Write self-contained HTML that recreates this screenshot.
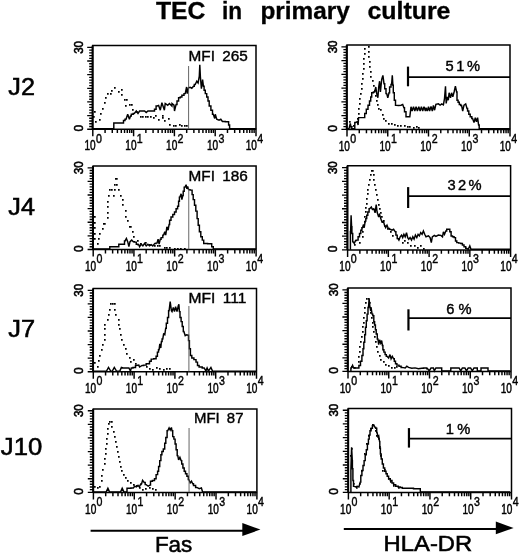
<!DOCTYPE html>
<html lang="en"><head><meta charset="utf-8"><title>TEC in primary culture</title>
<style>html,body{margin:0;padding:0;background:#fff}svg{display:block;will-change:transform}</style></head>
<body>
<svg width="520" height="554" viewBox="0 0 520 554" font-family='"Liberation Sans", Arial, Helvetica, sans-serif' fill="#000">
<rect width="520" height="554" fill="#fff"/>
<text x="155.9" y="18.8" font-size="23.6" text-anchor="start" font-weight="bold" textLength="49.6" lengthAdjust="spacingAndGlyphs" stroke="#000" stroke-width="0.3">TEC</text>
<text x="221.9" y="18.8" font-size="23.6" text-anchor="start" font-weight="bold" textLength="20.1" lengthAdjust="spacingAndGlyphs" stroke="#000" stroke-width="0.3">in</text>
<text x="260.4" y="18.8" font-size="23.6" text-anchor="start" font-weight="bold" textLength="89.35" lengthAdjust="spacingAndGlyphs" stroke="#000" stroke-width="0.3">primary</text>
<text x="367.4" y="18.8" font-size="23.6" text-anchor="start" font-weight="bold" textLength="83.1" lengthAdjust="spacingAndGlyphs" stroke="#000" stroke-width="0.3">culture</text>
<text x="8.3" y="95.0" font-size="23" text-anchor="start" font-weight="normal" textLength="26.6" lengthAdjust="spacingAndGlyphs" stroke="#000" stroke-width="0.55">J2</text>
<text x="8.3" y="215.2" font-size="23" text-anchor="start" font-weight="normal" textLength="26.6" lengthAdjust="spacingAndGlyphs" stroke="#000" stroke-width="0.55">J4</text>
<text x="8.3" y="337.4" font-size="23" text-anchor="start" font-weight="normal" textLength="26.8" lengthAdjust="spacingAndGlyphs" stroke="#000" stroke-width="0.55">J7</text>
<text x="0.8" y="454.7" font-size="23" text-anchor="start" font-weight="normal" textLength="41.4" lengthAdjust="spacingAndGlyphs" stroke="#000" stroke-width="0.55">J10</text>
<path d="M94 111h1.7v1.7h-1.7zM93 116h1.7v1.7h-1.7zM95 121h1.7v1.7h-1.7zM99 119h1.7v1.7h-1.7zM100 113h1.7v1.7h-1.7zM102 108h1.7v1.7h-1.7zM104 102h1.7v1.7h-1.7zM105 97h1.7v1.7h-1.7zM107 93h1.7v1.7h-1.7zM110 93h1.7v1.7h-1.7zM111 90h1.7v1.7h-1.7zM114 87h1.7v1.7h-1.7zM118 91h1.7v1.7h-1.7zM121 89h1.7v1.7h-1.7zM121 94h1.7v1.7h-1.7zM124 99h1.7v1.7h-1.7zM126 99h1.7v1.7h-1.7zM125 105h1.7v1.7h-1.7zM129 104h1.7v1.7h-1.7zM131 104h1.7v1.7h-1.7zM132 109h1.7v1.7h-1.7zM136 111h1.7v1.7h-1.7zM140 116h1.7v1.7h-1.7zM142 116h1.7v1.7h-1.7zM145 116h1.7v1.7h-1.7zM147 116h1.7v1.7h-1.7zM150 116h1.7v1.7h-1.7zM153 117h1.7v1.7h-1.7zM155 115h1.7v1.7h-1.7zM158 119h1.7v1.7h-1.7zM162 117h1.7v1.7h-1.7zM162 115h1.7v1.7h-1.7zM164 120h1.7v1.7h-1.7zM168 118h1.7v1.7h-1.7zM169 124h1.7v1.7h-1.7zM173 125h1.7v1.7h-1.7zM173 125h1.7v1.7h-1.7zM175 125h1.7v1.7h-1.7zM179 124h1.7v1.7h-1.7zM181 125h1.7v1.7h-1.7zM184 125h1.7v1.7h-1.7zM186 125h1.7v1.7h-1.7z" fill="#000" stroke="none"/>
<path d="M93.0 128.7H113.2H113.8V123.0H114.5H123.1H123.5V120.4H123.9H125.0V119.2H126.0L127.7 114.3L129.4 119.2L130.5 115.9H131.3V114.3H132.2H133.2V113.5H134.3L136.3 111.0L138.0 113.5L139.6 111.0H144.6L146.2 112.6L147.9 111.0H153.7H154.5V109.3H155.3H156.1V106.0H157.0L158.6 105.5L160.3 110.2L161.9 102.7L164.4 110.2L165.2 103.5L167.7 105.2L169.4 103.5L171.9 106.0L172.0 103.5L174.0 105.2L174.5 111.0L176.1 104.4H177.0V101.0H177.8H178.6V97.8H179.4H180.3V96.9H181.1H181.9V95.3H182.8H184.0V93.6H185.2L186.6 87.0L187.2 93.6L188.5 87.8L190.2 87.3L191.8 88.3L193.5 86.2H194.3V84.5H195.2L196.8 81.2L198.1 82.9L199.3 76.2L199.8 64.7L200.4 77.1L201.4 88.7L202.6 79.5L203.4 86.2H204.1V90.3H204.7H205.3V93.6H205.9H206.7V96.9H207.6H208.0V101.0H208.4H209.2V106.0H210.0H210.9V110.2H211.7H212.5V114.3H213.3L214.7 118.4L215.3 114.3L216.7 119.2L219.1 120.1L220.8 119.2L222.4 121.4H225.3V121.7H228.2H228.6V125.0H229.1H229.6V128.7H230.2H255.8" fill="none" stroke="#000" stroke-width="1.45" stroke-linejoin="miter" stroke-miterlimit="3"/>
<path d="M92.8 129.2V45.6H256.0V129.2" fill="none" stroke="#000" stroke-width="1.5"/>
<path d="M92.39999999999999 129.2H256.4" fill="none" stroke="#000" stroke-width="1.5"/>
<path d="M92.5 129.2V45.6" fill="none" stroke="#000" stroke-width="1.9"/>
<path d="M92.8 129.20h-5.6M92.8 126.47h-3.6M92.8 123.75h-3.6M92.8 121.02h-3.6M92.8 118.29h-3.6M92.8 115.57h-5.6M92.8 112.84h-3.6M92.8 110.11h-3.6M92.8 107.39h-3.6M92.8 104.66h-3.6M92.8 101.93h-5.6M92.8 99.21h-3.6M92.8 96.48h-3.6M92.8 93.75h-3.6M92.8 91.03h-3.6M92.8 88.30h-5.6M92.8 85.57h-3.6M92.8 82.85h-3.6M92.8 80.12h-3.6M92.8 77.39h-3.6M92.8 74.67h-5.6M92.8 71.94h-3.6M92.8 69.21h-3.6M92.8 66.49h-3.6M92.8 63.76h-3.6M92.8 61.03h-5.6M92.8 58.31h-3.6M92.8 55.58h-3.6M92.8 52.85h-3.6M92.8 50.13h-3.6M92.8 47.40h-5.6" stroke="#000" stroke-width="1.35" fill="none"/>
<path d="M92.80 129.2v7.0M105.08 129.2v3.9M112.27 129.2v3.9M117.36 129.2v3.9M121.32 129.2v3.9M124.55 129.2v3.9M127.28 129.2v3.9M129.65 129.2v3.9M131.73 129.2v3.9M133.60 129.2v7.0M145.88 129.2v3.9M153.07 129.2v3.9M158.16 129.2v3.9M162.12 129.2v3.9M165.35 129.2v3.9M168.08 129.2v3.9M170.45 129.2v3.9M172.53 129.2v3.9M174.40 129.2v7.0M186.68 129.2v3.9M193.87 129.2v3.9M198.96 129.2v3.9M202.92 129.2v3.9M206.15 129.2v3.9M208.88 129.2v3.9M211.25 129.2v3.9M213.33 129.2v3.9M215.20 129.2v7.0M227.48 129.2v3.9M234.67 129.2v3.9M239.76 129.2v3.9M243.72 129.2v3.9M246.95 129.2v3.9M249.68 129.2v3.9M252.05 129.2v3.9M254.13 129.2v3.9M256.00 129.2v7.0" stroke="#000" stroke-width="1.45" fill="none"/>
<text x="84.5" y="150.39999999999998" font-size="13.9" text-anchor="start" font-weight="normal" textLength="11.2" lengthAdjust="spacingAndGlyphs" stroke="#000" stroke-width="0.5">10</text>
<text x="96.0" y="142.59999999999997" font-size="13.4" text-anchor="start" font-weight="normal" textLength="5.9" lengthAdjust="spacingAndGlyphs" stroke="#000" stroke-width="0.45">0</text>
<text x="125.3" y="150.39999999999998" font-size="13.9" text-anchor="start" font-weight="normal" textLength="11.2" lengthAdjust="spacingAndGlyphs" stroke="#000" stroke-width="0.5">10</text>
<text x="136.8" y="142.59999999999997" font-size="13.4" text-anchor="start" font-weight="normal" textLength="5.9" lengthAdjust="spacingAndGlyphs" stroke="#000" stroke-width="0.45">1</text>
<text x="166.1" y="150.39999999999998" font-size="13.9" text-anchor="start" font-weight="normal" textLength="11.2" lengthAdjust="spacingAndGlyphs" stroke="#000" stroke-width="0.5">10</text>
<text x="177.6" y="142.59999999999997" font-size="13.4" text-anchor="start" font-weight="normal" textLength="5.9" lengthAdjust="spacingAndGlyphs" stroke="#000" stroke-width="0.45">2</text>
<text x="206.9" y="150.39999999999998" font-size="13.9" text-anchor="start" font-weight="normal" textLength="11.2" lengthAdjust="spacingAndGlyphs" stroke="#000" stroke-width="0.5">10</text>
<text x="218.4" y="142.59999999999997" font-size="13.4" text-anchor="start" font-weight="normal" textLength="5.9" lengthAdjust="spacingAndGlyphs" stroke="#000" stroke-width="0.45">3</text>
<text x="245.7" y="150.39999999999998" font-size="13.9" text-anchor="start" font-weight="normal" textLength="11.2" lengthAdjust="spacingAndGlyphs" stroke="#000" stroke-width="0.5">10</text>
<text x="257.2" y="142.59999999999997" font-size="13.4" text-anchor="start" font-weight="normal" textLength="5.9" lengthAdjust="spacingAndGlyphs" stroke="#000" stroke-width="0.45">4</text>
<text transform="translate(82.60 47.40) rotate(-90)" font-size="12" text-anchor="middle" textLength="12.8" lengthAdjust="spacingAndGlyphs" stroke="#000" stroke-width="0.6">30</text>
<text transform="translate(82.60 128.30) rotate(-90)" font-size="12" text-anchor="middle" textLength="6.6" lengthAdjust="spacingAndGlyphs" stroke="#000" stroke-width="0.6">0</text>
<path d="M349 121h1.7v1.7h-1.7zM351 126h1.7v1.7h-1.7zM353 125h1.7v1.7h-1.7zM357 118h1.7v1.7h-1.7zM358 113h1.7v1.7h-1.7zM358 108h1.7v1.7h-1.7zM359 103h1.7v1.7h-1.7zM359 98h1.7v1.7h-1.7zM360 93h1.7v1.7h-1.7zM361 88h1.7v1.7h-1.7zM361 83h1.7v1.7h-1.7zM362 78h1.7v1.7h-1.7zM362 73h1.7v1.7h-1.7zM363 68h1.7v1.7h-1.7zM363 63h1.7v1.7h-1.7zM363 58h1.7v1.7h-1.7zM364 53h1.7v1.7h-1.7zM364 48h1.7v1.7h-1.7zM368 46h1.7v1.7h-1.7zM368 51h1.7v1.7h-1.7zM368 56h1.7v1.7h-1.7zM369 61h1.7v1.7h-1.7zM369 66h1.7v1.7h-1.7zM370 71h1.7v1.7h-1.7zM370 76h1.7v1.7h-1.7zM372 80h1.7v1.7h-1.7zM373 85h1.7v1.7h-1.7zM374 90h1.7v1.7h-1.7zM375 95h1.7v1.7h-1.7zM376 100h1.7v1.7h-1.7zM377 104h1.7v1.7h-1.7zM378 108h1.7v1.7h-1.7zM380 109h1.7v1.7h-1.7zM382 114h1.7v1.7h-1.7zM383 118h1.7v1.7h-1.7zM385 120h1.7v1.7h-1.7zM388 123h1.7v1.7h-1.7zM391 123h1.7v1.7h-1.7zM394 124h1.7v1.7h-1.7zM397 125h1.7v1.7h-1.7zM400 125h1.7v1.7h-1.7zM404 125h1.7v1.7h-1.7zM407 126h1.7v1.7h-1.7zM409 126h1.7v1.7h-1.7zM413 127h1.7v1.7h-1.7zM416 126h1.7v1.7h-1.7zM418 127h1.7v1.7h-1.7z" fill="#000" stroke="none"/>
<path d="M347.2 128.8H349.0L350.3 123.4L351.4 128.8H353.9H354.8V122.5H355.6L357.2 121.7L358.1 125.0L358.6 117.6H363.8H364.7V113.5H365.5H366.3V109.3H367.1H368.0V105.2H368.8H369.5V101.0H370.1H370.7V96.9H371.3H371.7V92.8H372.1H373.4V92.0H374.6L375.8 87.0L376.7 93.6L377.9 97.8L378.7 87.0L379.6 81.2L380.4 92.0L381.7 79.5L382.9 75.4L384.0 83.7H384.7V88.7H385.3H386.0V93.6H386.7L387.8 97.8L389.0 92.8H389.6V87.0H390.3H391.0V84.5H391.6L392.3 75.4L392.9 85.3H393.3V92.8H393.6H394.3V100.2H394.9H395.5V105.2H396.1L398.6 105.5L401.1 105.2L402.7 104.4L403.9 107.7H404.5V111.8H405.2H406.0V116.8H406.8H409.8L411.0 106.8L412.1 111.0L413.5 106.8L414.8 111.0L416.1 106.8L417.4 111.0L418.8 106.8L420.1 111.0L421.4 106.8L422.7 111.0L424.0 106.8L425.4 111.0L426.0 107.7L427.3 111.0L428.5 106.8L429.6 111.0L431.0 106.5L432.3 111.0L433.4 105.5L434.6 110.2L435.9 104.4L438.4 103.9L440.1 105.2L441.7 103.9L443.4 104.9L444.5 98.6L445.5 86.2L446.2 103.5L447.2 96.9L448.3 100.2L449.1 92.8L450.5 97.8L451.6 92.8L452.8 96.9L454.1 92.0L455.4 86.2L456.6 92.0H457.0V100.2H457.4H458.1V102.2H458.7H459.3V104.4H459.9H460.7V105.5H461.6L462.7 111.0L464.0 105.2L465.7 103.9L467.0 108.5H467.6V111.0H468.2H468.8V114.3H469.3H470.2V116.8H471.0H471.8V118.4H472.6L474.0 122.5L475.3 117.6L476.4 121.7L477.6 117.6L478.6 125.0H479.2V128.8H479.8H509.8" fill="none" stroke="#000" stroke-width="1.45" stroke-linejoin="miter" stroke-miterlimit="3"/>
<path d="M347.0 129.4V45.1H510.0V129.4" fill="none" stroke="#000" stroke-width="1.5"/>
<path d="M346.6 129.4H510.4" fill="none" stroke="#000" stroke-width="1.5"/>
<path d="M346.7 129.4V45.1" fill="none" stroke="#000" stroke-width="1.9"/>
<path d="M347.0 129.40h-5.6M347.0 126.65h-3.6M347.0 123.90h-3.6M347.0 121.15h-3.6M347.0 118.40h-3.6M347.0 115.65h-5.6M347.0 112.90h-3.6M347.0 110.15h-3.6M347.0 107.40h-3.6M347.0 104.65h-3.6M347.0 101.90h-5.6M347.0 99.15h-3.6M347.0 96.40h-3.6M347.0 93.65h-3.6M347.0 90.90h-3.6M347.0 88.15h-5.6M347.0 85.40h-3.6M347.0 82.65h-3.6M347.0 79.90h-3.6M347.0 77.15h-3.6M347.0 74.40h-5.6M347.0 71.65h-3.6M347.0 68.90h-3.6M347.0 66.15h-3.6M347.0 63.40h-3.6M347.0 60.65h-5.6M347.0 57.90h-3.6M347.0 55.15h-3.6M347.0 52.40h-3.6M347.0 49.65h-3.6M347.0 46.90h-5.6" stroke="#000" stroke-width="1.35" fill="none"/>
<path d="M347.00 129.4v7.0M359.27 129.4v3.9M366.44 129.4v3.9M371.53 129.4v3.9M375.48 129.4v3.9M378.71 129.4v3.9M381.44 129.4v3.9M383.80 129.4v3.9M385.89 129.4v3.9M387.75 129.4v7.0M400.02 129.4v3.9M407.19 129.4v3.9M412.28 129.4v3.9M416.23 129.4v3.9M419.46 129.4v3.9M422.19 129.4v3.9M424.55 129.4v3.9M426.64 129.4v3.9M428.50 129.4v7.0M440.77 129.4v3.9M447.94 129.4v3.9M453.03 129.4v3.9M456.98 129.4v3.9M460.21 129.4v3.9M462.94 129.4v3.9M465.30 129.4v3.9M467.39 129.4v3.9M469.25 129.4v7.0M481.52 129.4v3.9M488.69 129.4v3.9M493.78 129.4v3.9M497.73 129.4v3.9M500.96 129.4v3.9M503.69 129.4v3.9M506.05 129.4v3.9M508.14 129.4v3.9M510.00 129.4v7.0" stroke="#000" stroke-width="1.45" fill="none"/>
<text x="338.7" y="150.6" font-size="13.9" text-anchor="start" font-weight="normal" textLength="11.2" lengthAdjust="spacingAndGlyphs" stroke="#000" stroke-width="0.5">10</text>
<text x="350.2" y="142.79999999999998" font-size="13.4" text-anchor="start" font-weight="normal" textLength="5.9" lengthAdjust="spacingAndGlyphs" stroke="#000" stroke-width="0.45">0</text>
<text x="379.45" y="150.6" font-size="13.9" text-anchor="start" font-weight="normal" textLength="11.2" lengthAdjust="spacingAndGlyphs" stroke="#000" stroke-width="0.5">10</text>
<text x="390.95" y="142.79999999999998" font-size="13.4" text-anchor="start" font-weight="normal" textLength="5.9" lengthAdjust="spacingAndGlyphs" stroke="#000" stroke-width="0.45">1</text>
<text x="420.2" y="150.6" font-size="13.9" text-anchor="start" font-weight="normal" textLength="11.2" lengthAdjust="spacingAndGlyphs" stroke="#000" stroke-width="0.5">10</text>
<text x="431.7" y="142.79999999999998" font-size="13.4" text-anchor="start" font-weight="normal" textLength="5.9" lengthAdjust="spacingAndGlyphs" stroke="#000" stroke-width="0.45">2</text>
<text x="460.95" y="150.6" font-size="13.9" text-anchor="start" font-weight="normal" textLength="11.2" lengthAdjust="spacingAndGlyphs" stroke="#000" stroke-width="0.5">10</text>
<text x="472.45" y="142.79999999999998" font-size="13.4" text-anchor="start" font-weight="normal" textLength="5.9" lengthAdjust="spacingAndGlyphs" stroke="#000" stroke-width="0.45">3</text>
<text x="499.7" y="150.6" font-size="13.9" text-anchor="start" font-weight="normal" textLength="11.2" lengthAdjust="spacingAndGlyphs" stroke="#000" stroke-width="0.5">10</text>
<text x="511.2" y="142.79999999999998" font-size="13.4" text-anchor="start" font-weight="normal" textLength="5.9" lengthAdjust="spacingAndGlyphs" stroke="#000" stroke-width="0.45">4</text>
<text transform="translate(336.80 46.90) rotate(-90)" font-size="12" text-anchor="middle" textLength="12.8" lengthAdjust="spacingAndGlyphs" stroke="#000" stroke-width="0.6">30</text>
<text transform="translate(336.80 128.50) rotate(-90)" font-size="12" text-anchor="middle" textLength="6.6" lengthAdjust="spacingAndGlyphs" stroke="#000" stroke-width="0.6">0</text>
<path d="M94 216h1.7v1.7h-1.7zM94 222h1.7v1.7h-1.7zM94 227h1.7v1.7h-1.7zM94 233h1.7v1.7h-1.7zM94 238h1.7v1.7h-1.7zM97 243h1.7v1.7h-1.7zM98 238h1.7v1.7h-1.7zM99 233h1.7v1.7h-1.7zM102 228h1.7v1.7h-1.7zM103 223h1.7v1.7h-1.7zM104 223h1.7v1.7h-1.7zM107 217h1.7v1.7h-1.7zM107 212h1.7v1.7h-1.7zM107 206h1.7v1.7h-1.7zM107 201h1.7v1.7h-1.7zM108 195h1.7v1.7h-1.7zM109 189h1.7v1.7h-1.7zM111 189h1.7v1.7h-1.7zM113 195h1.7v1.7h-1.7zM114 189h1.7v1.7h-1.7zM114 184h1.7v1.7h-1.7zM115 178h1.7v1.7h-1.7zM116 178h1.7v1.7h-1.7zM116 184h1.7v1.7h-1.7zM118 189h1.7v1.7h-1.7zM120 195h1.7v1.7h-1.7zM122 199h1.7v1.7h-1.7zM122 204h1.7v1.7h-1.7zM125 210h1.7v1.7h-1.7zM125 216h1.7v1.7h-1.7zM127 220h1.7v1.7h-1.7zM129 226h1.7v1.7h-1.7zM130 226h1.7v1.7h-1.7zM132 231h1.7v1.7h-1.7zM133 236h1.7v1.7h-1.7zM137 240h1.7v1.7h-1.7zM140 243h1.7v1.7h-1.7zM145 242h1.7v1.7h-1.7zM149 244h1.7v1.7h-1.7zM154 245h1.7v1.7h-1.7zM157 245h1.7v1.7h-1.7zM159 245h1.7v1.7h-1.7zM164 247h1.7v1.7h-1.7zM166 247h1.7v1.7h-1.7zM169 247h1.7v1.7h-1.7zM174 248h1.7v1.7h-1.7zM177 248h1.7v1.7h-1.7zM180 248h1.7v1.7h-1.7zM184 248h1.7v1.7h-1.7z" fill="#000" stroke="none"/>
<path d="M93.4 248.9H109.0H109.8V246.7H110.7H118.1H118.8V244.2H119.4H123.9H124.5V240.9H125.1L126.4 238.4L127.7 241.7L128.9 246.7L130.0 241.7L131.7 240.1L133.3 241.7H134.4V242.1H135.5H136.3V244.2H137.1H138.0V244.7H138.8L139.6 246.7L141.3 244.2L142.9 245.9L144.6 243.4L146.2 245.9L147.9 244.2L149.5 245.9L151.2 244.7L152.8 245.9L154.8 243.4H155.9V243.1H157.0L158.1 239.2L159.1 244.2L160.3 239.2H161.1V237.6H161.9H162.8V235.1H163.6L164.8 231.8L165.7 235.1L166.9 226.8L168.1 230.2L169.1 224.4H169.6V220.2H170.2H171.0V216.9H171.9H172.0H172.8V214.4H173.7H174.5V212.0H175.3H176.1V208.7H177.0H177.6V206.2H178.3H178.6V201.2H178.9H179.4V197.1H179.9L181.1 193.8L181.9 199.6L182.8 195.4H183.2V191.3H183.6H184.2V187.2H184.9L186.1 184.7L186.9 188.8L187.7 186.3L188.5 189.6H190.0V190.1H191.5H192.1V194.6H192.7H193.2V199.6H193.8H194.5V205.3H195.2H195.8V211.1H196.5H197.1V218.6H197.6H198.2V225.2H198.8H199.4V231.8H200.1H200.8V236.8H201.4H202.3V240.1H203.1H203.7V243.4H204.2H207.6V243.7H210.9H211.7V246.7H212.5H213.3V248.9H214.2H255.9" fill="none" stroke="#000" stroke-width="1.45" stroke-linejoin="miter" stroke-miterlimit="3"/>
<path d="M93.2 249.5V166.0H256.1V249.5" fill="none" stroke="#000" stroke-width="1.5"/>
<path d="M92.8 249.5H256.5" fill="none" stroke="#000" stroke-width="1.5"/>
<path d="M92.9 249.5V166.0" fill="none" stroke="#000" stroke-width="1.9"/>
<path d="M93.2 249.50h-5.6M93.2 246.78h-3.6M93.2 244.05h-3.6M93.2 241.33h-3.6M93.2 238.61h-3.6M93.2 235.88h-5.6M93.2 233.16h-3.6M93.2 230.44h-3.6M93.2 227.71h-3.6M93.2 224.99h-3.6M93.2 222.27h-5.6M93.2 219.54h-3.6M93.2 216.82h-3.6M93.2 214.10h-3.6M93.2 211.37h-3.6M93.2 208.65h-5.6M93.2 205.93h-3.6M93.2 203.20h-3.6M93.2 200.48h-3.6M93.2 197.76h-3.6M93.2 195.03h-5.6M93.2 192.31h-3.6M93.2 189.59h-3.6M93.2 186.86h-3.6M93.2 184.14h-3.6M93.2 181.42h-5.6M93.2 178.69h-3.6M93.2 175.97h-3.6M93.2 173.25h-3.6M93.2 170.52h-3.6M93.2 167.80h-5.6" stroke="#000" stroke-width="1.35" fill="none"/>
<path d="M93.20 249.5v7.0M105.46 249.5v3.9M112.63 249.5v3.9M117.72 249.5v3.9M121.67 249.5v3.9M124.89 249.5v3.9M127.62 249.5v3.9M129.98 249.5v3.9M132.06 249.5v3.9M133.93 249.5v7.0M146.18 249.5v3.9M153.36 249.5v3.9M158.44 249.5v3.9M162.39 249.5v3.9M165.62 249.5v3.9M168.34 249.5v3.9M170.70 249.5v3.9M172.79 249.5v3.9M174.65 249.5v7.0M186.91 249.5v3.9M194.08 249.5v3.9M199.17 249.5v3.9M203.12 249.5v3.9M206.34 249.5v3.9M209.07 249.5v3.9M211.43 249.5v3.9M213.51 249.5v3.9M215.38 249.5v7.0M227.63 249.5v3.9M234.81 249.5v3.9M239.89 249.5v3.9M243.84 249.5v3.9M247.07 249.5v3.9M249.79 249.5v3.9M252.15 249.5v3.9M254.24 249.5v3.9M256.10 249.5v7.0" stroke="#000" stroke-width="1.45" fill="none"/>
<text x="84.9" y="270.7" font-size="13.9" text-anchor="start" font-weight="normal" textLength="11.2" lengthAdjust="spacingAndGlyphs" stroke="#000" stroke-width="0.5">10</text>
<text x="96.4" y="262.9" font-size="13.4" text-anchor="start" font-weight="normal" textLength="5.9" lengthAdjust="spacingAndGlyphs" stroke="#000" stroke-width="0.45">0</text>
<text x="125.63" y="270.7" font-size="13.9" text-anchor="start" font-weight="normal" textLength="11.2" lengthAdjust="spacingAndGlyphs" stroke="#000" stroke-width="0.5">10</text>
<text x="137.12" y="262.9" font-size="13.4" text-anchor="start" font-weight="normal" textLength="5.9" lengthAdjust="spacingAndGlyphs" stroke="#000" stroke-width="0.45">1</text>
<text x="166.35" y="270.7" font-size="13.9" text-anchor="start" font-weight="normal" textLength="11.2" lengthAdjust="spacingAndGlyphs" stroke="#000" stroke-width="0.5">10</text>
<text x="177.85" y="262.9" font-size="13.4" text-anchor="start" font-weight="normal" textLength="5.9" lengthAdjust="spacingAndGlyphs" stroke="#000" stroke-width="0.45">2</text>
<text x="207.08" y="270.7" font-size="13.9" text-anchor="start" font-weight="normal" textLength="11.2" lengthAdjust="spacingAndGlyphs" stroke="#000" stroke-width="0.5">10</text>
<text x="218.58" y="262.9" font-size="13.4" text-anchor="start" font-weight="normal" textLength="5.9" lengthAdjust="spacingAndGlyphs" stroke="#000" stroke-width="0.45">3</text>
<text x="245.8" y="270.7" font-size="13.9" text-anchor="start" font-weight="normal" textLength="11.2" lengthAdjust="spacingAndGlyphs" stroke="#000" stroke-width="0.5">10</text>
<text x="257.3" y="262.9" font-size="13.4" text-anchor="start" font-weight="normal" textLength="5.9" lengthAdjust="spacingAndGlyphs" stroke="#000" stroke-width="0.45">4</text>
<text transform="translate(83.00 167.80) rotate(-90)" font-size="12" text-anchor="middle" textLength="12.8" lengthAdjust="spacingAndGlyphs" stroke="#000" stroke-width="0.6">30</text>
<text transform="translate(83.00 248.60) rotate(-90)" font-size="12" text-anchor="middle" textLength="6.6" lengthAdjust="spacingAndGlyphs" stroke="#000" stroke-width="0.6">0</text>
<path d="M354 244h1.7v1.7h-1.7zM359 242h1.7v1.7h-1.7zM362 236h1.7v1.7h-1.7zM362 231h1.7v1.7h-1.7zM363 226h1.7v1.7h-1.7zM364 221h1.7v1.7h-1.7zM364 216h1.7v1.7h-1.7zM365 211h1.7v1.7h-1.7zM365 207h1.7v1.7h-1.7zM366 203h1.7v1.7h-1.7zM366 198h1.7v1.7h-1.7zM367 193h1.7v1.7h-1.7zM367 189h1.7v1.7h-1.7zM368 184h1.7v1.7h-1.7zM369 179h1.7v1.7h-1.7zM370 174h1.7v1.7h-1.7zM371 170h1.7v1.7h-1.7zM372 170h1.7v1.7h-1.7zM373 174h1.7v1.7h-1.7zM373 179h1.7v1.7h-1.7zM374 184h1.7v1.7h-1.7zM375 189h1.7v1.7h-1.7zM376 194h1.7v1.7h-1.7zM377 199h1.7v1.7h-1.7zM378 204h1.7v1.7h-1.7zM379 208h1.7v1.7h-1.7zM380 212h1.7v1.7h-1.7zM381 216h1.7v1.7h-1.7zM383 220h1.7v1.7h-1.7zM384 225h1.7v1.7h-1.7zM387 228h1.7v1.7h-1.7zM390 231h1.7v1.7h-1.7zM392 235h1.7v1.7h-1.7zM398 238h1.7v1.7h-1.7zM402 242h1.7v1.7h-1.7zM404 240h1.7v1.7h-1.7zM407 242h1.7v1.7h-1.7zM410 245h1.7v1.7h-1.7zM414 245h1.7v1.7h-1.7zM417 247h1.7v1.7h-1.7zM420 245h1.7v1.7h-1.7zM423 248h1.7v1.7h-1.7z" fill="#000" stroke="none"/>
<path d="M350.3 249.3H350.4V231.8H350.6L351.1 215.3L351.6 226.8H351.9V233.5H352.3H352.7V241.7H353.1L354.2 243.4L355.6 240.4H356.4V240.1H357.2H358.1V236.8H358.9H359.5V233.5H360.2H360.8V230.2H361.4H361.9V227.7H362.5L363.5 224.4L364.2 227.7L365.2 221.1H365.8V218.6H366.3H366.7V215.3H367.1H367.8V212.0H368.5H369.1V208.7H369.6L371.3 207.0L372.4 209.5L373.8 208.7L375.1 212.8L376.2 204.5L377.1 212.0L378.4 216.1L379.6 214.4L380.7 218.6L382.0 221.9L383.4 221.1L384.5 225.2L385.7 227.7L387.0 225.2L388.3 228.5H389.3V229.3H390.3L392.0 230.2L393.6 229.3L395.3 231.8H395.9V235.1H396.6H397.2V238.4H397.8L398.9 240.1L400.2 236.8L401.6 235.1L402.7 237.6L403.9 234.3L405.2 236.8L406.5 232.6L407.7 237.6L408.8 239.2L410.1 237.6L411.5 240.1L412.8 236.8L414.1 239.2L415.4 235.1L416.8 237.6L418.1 234.3L419.4 235.9L420.7 232.6L422.1 234.3L423.4 231.0L424.7 234.3L426.0 236.8L428.5 235.9L430.1 237.6L431.3 242.6L432.3 236.8L434.3 235.4L435.9 236.4L438.4 235.1L440.9 235.4L442.5 236.8L443.4 231.8L444.5 234.3L445.8 231.0H446.7V229.3H447.5H449.1H449.8V231.8H450.5H451.1V235.9H451.6H452.5V236.8H453.3H454.1V237.6H454.9H455.5V240.9H456.1H456.8V242.6H457.4H458.7V243.1H459.9H460.7V243.4H461.6H462.4V245.0H463.2H464.0V246.7H464.9H465.7V248.3H466.5L468.2 249.3L469.8 245.9L471.0 249.3H510.0" fill="none" stroke="#000" stroke-width="1.45" stroke-linejoin="miter" stroke-miterlimit="3"/>
<path d="M347.6 249.9V165.85H510.6V249.9" fill="none" stroke="#000" stroke-width="1.5"/>
<path d="M347.20000000000005 249.9H511.0" fill="none" stroke="#000" stroke-width="1.5"/>
<path d="M347.3 249.9V165.85" fill="none" stroke="#000" stroke-width="1.9"/>
<path d="M347.6 249.90h-5.6M347.6 247.16h-3.6M347.6 244.42h-3.6M347.6 241.68h-3.6M347.6 238.93h-3.6M347.6 236.19h-5.6M347.6 233.45h-3.6M347.6 230.71h-3.6M347.6 227.97h-3.6M347.6 225.22h-3.6M347.6 222.48h-5.6M347.6 219.74h-3.6M347.6 217.00h-3.6M347.6 214.26h-3.6M347.6 211.52h-3.6M347.6 208.78h-5.6M347.6 206.03h-3.6M347.6 203.29h-3.6M347.6 200.55h-3.6M347.6 197.81h-3.6M347.6 195.07h-5.6M347.6 192.32h-3.6M347.6 189.58h-3.6M347.6 186.84h-3.6M347.6 184.10h-3.6M347.6 181.36h-5.6M347.6 178.62h-3.6M347.6 175.88h-3.6M347.6 173.13h-3.6M347.6 170.39h-3.6M347.6 167.65h-5.6" stroke="#000" stroke-width="1.35" fill="none"/>
<path d="M347.60 249.9v7.0M359.87 249.9v3.9M367.04 249.9v3.9M372.13 249.9v3.9M376.08 249.9v3.9M379.31 249.9v3.9M382.04 249.9v3.9M384.40 249.9v3.9M386.49 249.9v3.9M388.35 249.9v7.0M400.62 249.9v3.9M407.79 249.9v3.9M412.88 249.9v3.9M416.83 249.9v3.9M420.06 249.9v3.9M422.79 249.9v3.9M425.15 249.9v3.9M427.24 249.9v3.9M429.10 249.9v7.0M441.37 249.9v3.9M448.54 249.9v3.9M453.63 249.9v3.9M457.58 249.9v3.9M460.81 249.9v3.9M463.54 249.9v3.9M465.90 249.9v3.9M467.99 249.9v3.9M469.85 249.9v7.0M482.12 249.9v3.9M489.29 249.9v3.9M494.38 249.9v3.9M498.33 249.9v3.9M501.56 249.9v3.9M504.29 249.9v3.9M506.65 249.9v3.9M508.74 249.9v3.9M510.60 249.9v7.0" stroke="#000" stroke-width="1.45" fill="none"/>
<text x="339.3" y="271.1" font-size="13.9" text-anchor="start" font-weight="normal" textLength="11.2" lengthAdjust="spacingAndGlyphs" stroke="#000" stroke-width="0.5">10</text>
<text x="350.8" y="263.3" font-size="13.4" text-anchor="start" font-weight="normal" textLength="5.9" lengthAdjust="spacingAndGlyphs" stroke="#000" stroke-width="0.45">0</text>
<text x="380.05" y="271.1" font-size="13.9" text-anchor="start" font-weight="normal" textLength="11.2" lengthAdjust="spacingAndGlyphs" stroke="#000" stroke-width="0.5">10</text>
<text x="391.55" y="263.3" font-size="13.4" text-anchor="start" font-weight="normal" textLength="5.9" lengthAdjust="spacingAndGlyphs" stroke="#000" stroke-width="0.45">1</text>
<text x="420.8" y="271.1" font-size="13.9" text-anchor="start" font-weight="normal" textLength="11.2" lengthAdjust="spacingAndGlyphs" stroke="#000" stroke-width="0.5">10</text>
<text x="432.3" y="263.3" font-size="13.4" text-anchor="start" font-weight="normal" textLength="5.9" lengthAdjust="spacingAndGlyphs" stroke="#000" stroke-width="0.45">2</text>
<text x="461.55" y="271.1" font-size="13.9" text-anchor="start" font-weight="normal" textLength="11.2" lengthAdjust="spacingAndGlyphs" stroke="#000" stroke-width="0.5">10</text>
<text x="473.05" y="263.3" font-size="13.4" text-anchor="start" font-weight="normal" textLength="5.9" lengthAdjust="spacingAndGlyphs" stroke="#000" stroke-width="0.45">3</text>
<text x="500.3" y="271.1" font-size="13.9" text-anchor="start" font-weight="normal" textLength="11.2" lengthAdjust="spacingAndGlyphs" stroke="#000" stroke-width="0.5">10</text>
<text x="511.8" y="263.3" font-size="13.4" text-anchor="start" font-weight="normal" textLength="5.9" lengthAdjust="spacingAndGlyphs" stroke="#000" stroke-width="0.45">4</text>
<text transform="translate(337.40 167.65) rotate(-90)" font-size="12" text-anchor="middle" textLength="12.8" lengthAdjust="spacingAndGlyphs" stroke="#000" stroke-width="0.6">30</text>
<text transform="translate(337.40 249.00) rotate(-90)" font-size="12" text-anchor="middle" textLength="6.6" lengthAdjust="spacingAndGlyphs" stroke="#000" stroke-width="0.6">0</text>
<path d="M94 362h1.7v1.7h-1.7zM97 366h1.7v1.7h-1.7zM98 360h1.7v1.7h-1.7zM99 355h1.7v1.7h-1.7zM101 349h1.7v1.7h-1.7zM102 344h1.7v1.7h-1.7zM104 339h1.7v1.7h-1.7zM104 334h1.7v1.7h-1.7zM104 328h1.7v1.7h-1.7zM104 324h1.7v1.7h-1.7zM107 319h1.7v1.7h-1.7zM108 314h1.7v1.7h-1.7zM109 309h1.7v1.7h-1.7zM110 303h1.7v1.7h-1.7zM112 303h1.7v1.7h-1.7zM114 303h1.7v1.7h-1.7zM114 309h1.7v1.7h-1.7zM115 314h1.7v1.7h-1.7zM118 319h1.7v1.7h-1.7zM118 324h1.7v1.7h-1.7zM119 328h1.7v1.7h-1.7zM120 334h1.7v1.7h-1.7zM121 339h1.7v1.7h-1.7zM123 344h1.7v1.7h-1.7zM125 348h1.7v1.7h-1.7zM126 353h1.7v1.7h-1.7zM129 357h1.7v1.7h-1.7zM130 361h1.7v1.7h-1.7zM133 359h1.7v1.7h-1.7zM135 363h1.7v1.7h-1.7zM146 366h1.7v1.7h-1.7zM149 368h1.7v1.7h-1.7zM152 369h1.7v1.7h-1.7zM156 367h1.7v1.7h-1.7zM159 368h1.7v1.7h-1.7zM163 369h1.7v1.7h-1.7zM166 368h1.7v1.7h-1.7zM169 368h1.7v1.7h-1.7z" fill="#000" stroke="none"/>
<path d="M93.5 371.1H106.5L108.5 367.4L110.7 371.1H112.3L114.3 367.4L116.5 371.1H119.8L121.4 367.4L123.1 367.9H128.9L130.5 371.1L131.3 367.9H133.0V367.4H134.7H135.5V365.4H136.3L138.8 365.1L139.6 367.0L142.1 365.4H143.7V365.1H145.4H146.2V363.7H147.1H148.7H149.5V361.2H150.4H151.2V359.1H152.0H153.7V358.8H155.3H156.1V356.3H157.0H157.4V352.1H157.8H158.5V349.7H159.1L159.8 343.9L160.8 348.0L161.4 341.4H162.1V338.9H162.8L163.6 334.0L164.8 334.8L165.7 328.2H166.3V323.2H166.9H167.5V317.4H168.1H168.6V310.8H169.1L170.2 301.7L171.4 310.8L172.0 311.6L173.3 307.5L174.5 311.6L175.6 306.7L177.0 311.6L178.3 305.8L178.9 304.2L179.4 311.6H180.0V317.4H180.6H181.1V321.6H181.6H182.2V326.5H182.8H183.3V331.5H183.9L185.2 335.6L186.6 334.8L188.2 335.3H188.5V340.6H188.9H189.4V348.8H189.9H190.4V355.5H191.0H191.8V357.9H192.7H193.9V359.6H195.2H196.0V362.1H196.8H197.5V365.4H198.1H199.1V367.0H200.1H202.2V367.9H204.2L205.9 371.1L207.1 367.9L208.4 371.1L210.9 367.4L212.5 371.1H256.2" fill="none" stroke="#000" stroke-width="1.45" stroke-linejoin="miter" stroke-miterlimit="3"/>
<path d="M93.3 371.7V288.5H256.5V371.7" fill="none" stroke="#000" stroke-width="1.5"/>
<path d="M92.89999999999999 371.7H256.9" fill="none" stroke="#000" stroke-width="1.5"/>
<path d="M93.0 371.7V288.5" fill="none" stroke="#000" stroke-width="1.9"/>
<path d="M93.3 371.70h-5.6M93.3 368.99h-3.6M93.3 366.27h-3.6M93.3 363.56h-3.6M93.3 360.85h-3.6M93.3 358.13h-5.6M93.3 355.42h-3.6M93.3 352.71h-3.6M93.3 349.99h-3.6M93.3 347.28h-3.6M93.3 344.57h-5.6M93.3 341.85h-3.6M93.3 339.14h-3.6M93.3 336.43h-3.6M93.3 333.71h-3.6M93.3 331.00h-5.6M93.3 328.29h-3.6M93.3 325.57h-3.6M93.3 322.86h-3.6M93.3 320.15h-3.6M93.3 317.43h-5.6M93.3 314.72h-3.6M93.3 312.01h-3.6M93.3 309.29h-3.6M93.3 306.58h-3.6M93.3 303.87h-5.6M93.3 301.15h-3.6M93.3 298.44h-3.6M93.3 295.73h-3.6M93.3 293.01h-3.6M93.3 290.30h-5.6" stroke="#000" stroke-width="1.35" fill="none"/>
<path d="M93.30 371.7v7.0M105.58 371.7v3.9M112.77 371.7v3.9M117.86 371.7v3.9M121.82 371.7v3.9M125.05 371.7v3.9M127.78 371.7v3.9M130.15 371.7v3.9M132.23 371.7v3.9M134.10 371.7v7.0M146.38 371.7v3.9M153.57 371.7v3.9M158.66 371.7v3.9M162.62 371.7v3.9M165.85 371.7v3.9M168.58 371.7v3.9M170.95 371.7v3.9M173.03 371.7v3.9M174.90 371.7v7.0M187.18 371.7v3.9M194.37 371.7v3.9M199.46 371.7v3.9M203.42 371.7v3.9M206.65 371.7v3.9M209.38 371.7v3.9M211.75 371.7v3.9M213.83 371.7v3.9M215.70 371.7v7.0M227.98 371.7v3.9M235.17 371.7v3.9M240.26 371.7v3.9M244.22 371.7v3.9M247.45 371.7v3.9M250.18 371.7v3.9M252.55 371.7v3.9M254.63 371.7v3.9M256.50 371.7v7.0" stroke="#000" stroke-width="1.45" fill="none"/>
<text x="85.0" y="392.9" font-size="13.9" text-anchor="start" font-weight="normal" textLength="11.2" lengthAdjust="spacingAndGlyphs" stroke="#000" stroke-width="0.5">10</text>
<text x="96.5" y="385.09999999999997" font-size="13.4" text-anchor="start" font-weight="normal" textLength="5.9" lengthAdjust="spacingAndGlyphs" stroke="#000" stroke-width="0.45">0</text>
<text x="125.8" y="392.9" font-size="13.9" text-anchor="start" font-weight="normal" textLength="11.2" lengthAdjust="spacingAndGlyphs" stroke="#000" stroke-width="0.5">10</text>
<text x="137.3" y="385.09999999999997" font-size="13.4" text-anchor="start" font-weight="normal" textLength="5.9" lengthAdjust="spacingAndGlyphs" stroke="#000" stroke-width="0.45">1</text>
<text x="166.6" y="392.9" font-size="13.9" text-anchor="start" font-weight="normal" textLength="11.2" lengthAdjust="spacingAndGlyphs" stroke="#000" stroke-width="0.5">10</text>
<text x="178.1" y="385.09999999999997" font-size="13.4" text-anchor="start" font-weight="normal" textLength="5.9" lengthAdjust="spacingAndGlyphs" stroke="#000" stroke-width="0.45">2</text>
<text x="207.4" y="392.9" font-size="13.9" text-anchor="start" font-weight="normal" textLength="11.2" lengthAdjust="spacingAndGlyphs" stroke="#000" stroke-width="0.5">10</text>
<text x="218.9" y="385.09999999999997" font-size="13.4" text-anchor="start" font-weight="normal" textLength="5.9" lengthAdjust="spacingAndGlyphs" stroke="#000" stroke-width="0.45">3</text>
<text x="246.2" y="392.9" font-size="13.9" text-anchor="start" font-weight="normal" textLength="11.2" lengthAdjust="spacingAndGlyphs" stroke="#000" stroke-width="0.5">10</text>
<text x="257.7" y="385.09999999999997" font-size="13.4" text-anchor="start" font-weight="normal" textLength="5.9" lengthAdjust="spacingAndGlyphs" stroke="#000" stroke-width="0.45">4</text>
<text transform="translate(83.10 290.30) rotate(-90)" font-size="12" text-anchor="middle" textLength="12.8" lengthAdjust="spacingAndGlyphs" stroke="#000" stroke-width="0.6">30</text>
<text transform="translate(83.10 370.80) rotate(-90)" font-size="12" text-anchor="middle" textLength="6.6" lengthAdjust="spacingAndGlyphs" stroke="#000" stroke-width="0.6">0</text>
<path d="M351 366h1.7v1.7h-1.7zM354 367h1.7v1.7h-1.7zM358 361h1.7v1.7h-1.7zM358 356h1.7v1.7h-1.7zM359 351h1.7v1.7h-1.7zM359 346h1.7v1.7h-1.7zM360 341h1.7v1.7h-1.7zM361 336h1.7v1.7h-1.7zM362 331h1.7v1.7h-1.7zM362 326h1.7v1.7h-1.7zM363 322h1.7v1.7h-1.7zM363 317h1.7v1.7h-1.7zM364 312h1.7v1.7h-1.7zM364 307h1.7v1.7h-1.7zM365 302h1.7v1.7h-1.7zM366 298h1.7v1.7h-1.7zM368 298h1.7v1.7h-1.7zM369 302h1.7v1.7h-1.7zM370 307h1.7v1.7h-1.7zM370 312h1.7v1.7h-1.7zM371 317h1.7v1.7h-1.7zM372 322h1.7v1.7h-1.7zM372 326h1.7v1.7h-1.7zM373 331h1.7v1.7h-1.7zM374 336h1.7v1.7h-1.7zM375 341h1.7v1.7h-1.7zM376 346h1.7v1.7h-1.7zM377 351h1.7v1.7h-1.7zM379 355h1.7v1.7h-1.7zM380 359h1.7v1.7h-1.7zM383 361h1.7v1.7h-1.7zM385 364h1.7v1.7h-1.7zM388 365h1.7v1.7h-1.7zM391 367h1.7v1.7h-1.7zM394 367h1.7v1.7h-1.7zM396 366h1.7v1.7h-1.7z" fill="#000" stroke="none"/>
<path d="M350.3 370.9H350.9V367.9H351.4L352.6 365.4L353.6 367.9H358.1H358.9V365.4H359.7H360.5V361.2H361.4H361.9V355.5H362.5H363.0V348.8H363.5H363.8V342.2H364.2H364.7V334.8H365.2H365.5V327.3H365.8H366.3V320.7H366.8H367.1V314.1H367.5H368.0V307.5H368.5L369.1 298.9L369.8 305.8L370.5 310.0L371.3 309.1L372.1 314.1H372.8V315.8H373.4H373.8V321.6H374.1H374.6V324.9H375.1H375.4V329.8H375.8H376.2V334.0H376.7H377.3V338.9H377.9L378.7 344.7L379.6 339.8L380.7 343.1L381.7 340.6L382.4 345.5H382.9V349.7H383.4H383.9V352.1H384.5H385.1V354.6H385.7H386.3V356.3H387.0L388.6 357.9L390.0 354.6L391.1 358.8L392.3 356.3L393.6 358.8H394.3V361.2H394.9H395.5V363.7H396.1H396.9V365.1H397.8H399.0V366.2H400.2H401.1V367.4H401.9L405.2 367.9L406.8 366.2L408.5 367.4L411.8 368.2L415.1 367.9L418.4 368.7L421.7 368.2H423.4V367.9H425.0H426.0H426.8V368.7H427.6L429.3 370.9L431.0 367.9H433.4L434.3 370.9L435.9 367.9H440.9H441.7V370.9H442.5H450.0H450.8V367.9H451.6H459.1L460.7 370.9L462.4 367.9H464.9L466.5 370.9L468.2 367.9H470.6L472.3 370.9L474.0 367.9H476.4H477.3V370.9H478.1H479.8H481.0V367.9H482.2H487.2H488.0V370.9H488.8H510.0" fill="none" stroke="#000" stroke-width="1.45" stroke-linejoin="miter" stroke-miterlimit="3"/>
<path d="M348.0 371.4V288.0H511.0V371.4" fill="none" stroke="#000" stroke-width="1.5"/>
<path d="M347.6 371.4H511.4" fill="none" stroke="#000" stroke-width="1.5"/>
<path d="M347.7 371.4V288.0" fill="none" stroke="#000" stroke-width="1.9"/>
<path d="M348.0 371.40h-5.6M348.0 368.68h-3.6M348.0 365.96h-3.6M348.0 363.24h-3.6M348.0 360.52h-3.6M348.0 357.80h-5.6M348.0 355.08h-3.6M348.0 352.36h-3.6M348.0 349.64h-3.6M348.0 346.92h-3.6M348.0 344.20h-5.6M348.0 341.48h-3.6M348.0 338.76h-3.6M348.0 336.04h-3.6M348.0 333.32h-3.6M348.0 330.60h-5.6M348.0 327.88h-3.6M348.0 325.16h-3.6M348.0 322.44h-3.6M348.0 319.72h-3.6M348.0 317.00h-5.6M348.0 314.28h-3.6M348.0 311.56h-3.6M348.0 308.84h-3.6M348.0 306.12h-3.6M348.0 303.40h-5.6M348.0 300.68h-3.6M348.0 297.96h-3.6M348.0 295.24h-3.6M348.0 292.52h-3.6M348.0 289.80h-5.6" stroke="#000" stroke-width="1.35" fill="none"/>
<path d="M348.00 371.4v7.0M360.27 371.4v3.9M367.44 371.4v3.9M372.53 371.4v3.9M376.48 371.4v3.9M379.71 371.4v3.9M382.44 371.4v3.9M384.80 371.4v3.9M386.89 371.4v3.9M388.75 371.4v7.0M401.02 371.4v3.9M408.19 371.4v3.9M413.28 371.4v3.9M417.23 371.4v3.9M420.46 371.4v3.9M423.19 371.4v3.9M425.55 371.4v3.9M427.64 371.4v3.9M429.50 371.4v7.0M441.77 371.4v3.9M448.94 371.4v3.9M454.03 371.4v3.9M457.98 371.4v3.9M461.21 371.4v3.9M463.94 371.4v3.9M466.30 371.4v3.9M468.39 371.4v3.9M470.25 371.4v7.0M482.52 371.4v3.9M489.69 371.4v3.9M494.78 371.4v3.9M498.73 371.4v3.9M501.96 371.4v3.9M504.69 371.4v3.9M507.05 371.4v3.9M509.14 371.4v3.9M511.00 371.4v7.0" stroke="#000" stroke-width="1.45" fill="none"/>
<text x="339.7" y="392.59999999999997" font-size="13.9" text-anchor="start" font-weight="normal" textLength="11.2" lengthAdjust="spacingAndGlyphs" stroke="#000" stroke-width="0.5">10</text>
<text x="351.2" y="384.79999999999995" font-size="13.4" text-anchor="start" font-weight="normal" textLength="5.9" lengthAdjust="spacingAndGlyphs" stroke="#000" stroke-width="0.45">0</text>
<text x="380.45" y="392.59999999999997" font-size="13.9" text-anchor="start" font-weight="normal" textLength="11.2" lengthAdjust="spacingAndGlyphs" stroke="#000" stroke-width="0.5">10</text>
<text x="391.95" y="384.79999999999995" font-size="13.4" text-anchor="start" font-weight="normal" textLength="5.9" lengthAdjust="spacingAndGlyphs" stroke="#000" stroke-width="0.45">1</text>
<text x="421.2" y="392.59999999999997" font-size="13.9" text-anchor="start" font-weight="normal" textLength="11.2" lengthAdjust="spacingAndGlyphs" stroke="#000" stroke-width="0.5">10</text>
<text x="432.7" y="384.79999999999995" font-size="13.4" text-anchor="start" font-weight="normal" textLength="5.9" lengthAdjust="spacingAndGlyphs" stroke="#000" stroke-width="0.45">2</text>
<text x="461.95" y="392.59999999999997" font-size="13.9" text-anchor="start" font-weight="normal" textLength="11.2" lengthAdjust="spacingAndGlyphs" stroke="#000" stroke-width="0.5">10</text>
<text x="473.45" y="384.79999999999995" font-size="13.4" text-anchor="start" font-weight="normal" textLength="5.9" lengthAdjust="spacingAndGlyphs" stroke="#000" stroke-width="0.45">3</text>
<text x="500.7" y="392.59999999999997" font-size="13.9" text-anchor="start" font-weight="normal" textLength="11.2" lengthAdjust="spacingAndGlyphs" stroke="#000" stroke-width="0.5">10</text>
<text x="512.2" y="384.79999999999995" font-size="13.4" text-anchor="start" font-weight="normal" textLength="5.9" lengthAdjust="spacingAndGlyphs" stroke="#000" stroke-width="0.45">4</text>
<text transform="translate(337.80 289.80) rotate(-90)" font-size="12" text-anchor="middle" textLength="12.8" lengthAdjust="spacingAndGlyphs" stroke="#000" stroke-width="0.6">30</text>
<text transform="translate(337.80 370.50) rotate(-90)" font-size="12" text-anchor="middle" textLength="6.6" lengthAdjust="spacingAndGlyphs" stroke="#000" stroke-width="0.6">0</text>
<path d="M94 486h1.7v1.7h-1.7zM97 487h1.7v1.7h-1.7zM99 486h1.7v1.7h-1.7zM101 480h1.7v1.7h-1.7zM101 475h1.7v1.7h-1.7zM102 469h1.7v1.7h-1.7zM104 463h1.7v1.7h-1.7zM104 458h1.7v1.7h-1.7zM105 453h1.7v1.7h-1.7zM105 448h1.7v1.7h-1.7zM106 443h1.7v1.7h-1.7zM106 438h1.7v1.7h-1.7zM107 433h1.7v1.7h-1.7zM107 428h1.7v1.7h-1.7zM108 423h1.7v1.7h-1.7zM109 421h1.7v1.7h-1.7zM111 421h1.7v1.7h-1.7zM111 426h1.7v1.7h-1.7zM113 431h1.7v1.7h-1.7zM114 436h1.7v1.7h-1.7zM115 441h1.7v1.7h-1.7zM116 446h1.7v1.7h-1.7zM117 451h1.7v1.7h-1.7zM118 456h1.7v1.7h-1.7zM119 461h1.7v1.7h-1.7zM120 466h1.7v1.7h-1.7zM121 470h1.7v1.7h-1.7zM123 474h1.7v1.7h-1.7zM125 477h1.7v1.7h-1.7zM127 480h1.7v1.7h-1.7zM130 482h1.7v1.7h-1.7zM133 484h1.7v1.7h-1.7zM136 485h1.7v1.7h-1.7zM139 487h1.7v1.7h-1.7zM142 489h1.7v1.7h-1.7zM145 488h1.7v1.7h-1.7zM149 487h1.7v1.7h-1.7zM152 488h1.7v1.7h-1.7zM155 489h1.7v1.7h-1.7z" fill="#000" stroke="none"/>
<path d="M93.6 491.9H106.2L107.9 488.2L109.5 491.9H120.6L122.2 488.2L123.9 491.9H125.5H127.0V488.2H128.4H130.9V487.9H133.3L134.7 486.2L136.3 487.0L138.0 485.4L139.3 487.0L140.4 484.6H141.0V483.7H141.6L142.6 480.4L144.2 482.4H145.2V484.6H146.2L148.2 486.2L149.9 485.1H150.5V481.2H151.2H152.4V480.4H153.7H154.5V478.8H155.3H156.1V474.6H157.0H157.6V471.3H158.1H158.6V466.4H159.1H159.7V460.6H160.3H160.9V454.8H161.4H161.9V451.5H162.4H163.3V449.0H164.1H164.7V443.2H165.2H165.8V437.4H166.4H167.1V430.8H167.7L169.1 427.8L170.2 430.0L171.4 427.5L172.0 430.8H172.7V436.6H173.3H173.9V439.1H174.5H175.1V444.0H175.6H176.1V449.8H176.6H177.2V455.6H177.8L178.6 459.8L179.9 457.3L181.1 460.6H181.7V463.9H182.2H182.9V468.0H183.6H184.2V471.3H184.9H185.5V473.8H186.1H186.9V476.3H187.7H188.3V479.6H188.9L190.2 482.9L191.5 481.2L192.7 483.7H193.5V485.4H194.3H195.6V487.4H196.8L199.3 488.7L201.4 487.9L202.6 491.9H256.2" fill="none" stroke="#000" stroke-width="1.45" stroke-linejoin="miter" stroke-miterlimit="3"/>
<path d="M93.4 492.4V408.9H256.9V492.4" fill="none" stroke="#000" stroke-width="1.5"/>
<path d="M93.0 492.4H257.29999999999995" fill="none" stroke="#000" stroke-width="1.5"/>
<path d="M93.10000000000001 492.4V408.9" fill="none" stroke="#000" stroke-width="1.9"/>
<path d="M93.4 492.40h-5.6M93.4 489.68h-3.6M93.4 486.95h-3.6M93.4 484.23h-3.6M93.4 481.51h-3.6M93.4 478.78h-5.6M93.4 476.06h-3.6M93.4 473.34h-3.6M93.4 470.61h-3.6M93.4 467.89h-3.6M93.4 465.17h-5.6M93.4 462.44h-3.6M93.4 459.72h-3.6M93.4 457.00h-3.6M93.4 454.27h-3.6M93.4 451.55h-5.6M93.4 448.83h-3.6M93.4 446.10h-3.6M93.4 443.38h-3.6M93.4 440.66h-3.6M93.4 437.93h-5.6M93.4 435.21h-3.6M93.4 432.49h-3.6M93.4 429.76h-3.6M93.4 427.04h-3.6M93.4 424.32h-5.6M93.4 421.59h-3.6M93.4 418.87h-3.6M93.4 416.15h-3.6M93.4 413.42h-3.6M93.4 410.70h-5.6" stroke="#000" stroke-width="1.35" fill="none"/>
<path d="M93.40 492.4v7.0M105.70 492.4v3.9M112.90 492.4v3.9M118.01 492.4v3.9M121.97 492.4v3.9M125.21 492.4v3.9M127.94 492.4v3.9M130.31 492.4v3.9M132.40 492.4v3.9M134.28 492.4v7.0M146.58 492.4v3.9M153.78 492.4v3.9M158.88 492.4v3.9M162.85 492.4v3.9M166.08 492.4v3.9M168.82 492.4v3.9M171.19 492.4v3.9M173.28 492.4v3.9M175.15 492.4v7.0M187.45 492.4v3.9M194.65 492.4v3.9M199.76 492.4v3.9M203.72 492.4v3.9M206.96 492.4v3.9M209.69 492.4v3.9M212.06 492.4v3.9M214.15 492.4v3.9M216.02 492.4v7.0M228.33 492.4v3.9M235.53 492.4v3.9M240.63 492.4v3.9M244.60 492.4v3.9M247.83 492.4v3.9M250.57 492.4v3.9M252.94 492.4v3.9M255.03 492.4v3.9M256.90 492.4v7.0" stroke="#000" stroke-width="1.45" fill="none"/>
<text x="85.1" y="513.6" font-size="13.9" text-anchor="start" font-weight="normal" textLength="11.2" lengthAdjust="spacingAndGlyphs" stroke="#000" stroke-width="0.5">10</text>
<text x="96.6" y="505.8" font-size="13.4" text-anchor="start" font-weight="normal" textLength="5.9" lengthAdjust="spacingAndGlyphs" stroke="#000" stroke-width="0.45">0</text>
<text x="125.98" y="513.6" font-size="13.9" text-anchor="start" font-weight="normal" textLength="11.2" lengthAdjust="spacingAndGlyphs" stroke="#000" stroke-width="0.5">10</text>
<text x="137.48" y="505.8" font-size="13.4" text-anchor="start" font-weight="normal" textLength="5.9" lengthAdjust="spacingAndGlyphs" stroke="#000" stroke-width="0.45">1</text>
<text x="166.85" y="513.6" font-size="13.9" text-anchor="start" font-weight="normal" textLength="11.2" lengthAdjust="spacingAndGlyphs" stroke="#000" stroke-width="0.5">10</text>
<text x="178.35" y="505.8" font-size="13.4" text-anchor="start" font-weight="normal" textLength="5.9" lengthAdjust="spacingAndGlyphs" stroke="#000" stroke-width="0.45">2</text>
<text x="207.72" y="513.6" font-size="13.9" text-anchor="start" font-weight="normal" textLength="11.2" lengthAdjust="spacingAndGlyphs" stroke="#000" stroke-width="0.5">10</text>
<text x="219.22" y="505.8" font-size="13.4" text-anchor="start" font-weight="normal" textLength="5.9" lengthAdjust="spacingAndGlyphs" stroke="#000" stroke-width="0.45">3</text>
<text x="246.6" y="513.6" font-size="13.9" text-anchor="start" font-weight="normal" textLength="11.2" lengthAdjust="spacingAndGlyphs" stroke="#000" stroke-width="0.5">10</text>
<text x="258.1" y="505.8" font-size="13.4" text-anchor="start" font-weight="normal" textLength="5.9" lengthAdjust="spacingAndGlyphs" stroke="#000" stroke-width="0.45">4</text>
<text transform="translate(83.20 410.70) rotate(-90)" font-size="12" text-anchor="middle" textLength="12.8" lengthAdjust="spacingAndGlyphs" stroke="#000" stroke-width="0.6">30</text>
<text transform="translate(83.20 491.50) rotate(-90)" font-size="12" text-anchor="middle" textLength="6.6" lengthAdjust="spacingAndGlyphs" stroke="#000" stroke-width="0.6">0</text>
<path d="M350 455h1.7v1.7h-1.7zM351 448h1.7v1.7h-1.7zM351 461h1.7v1.7h-1.7zM353 483h1.7v1.7h-1.7zM356 487h1.7v1.7h-1.7zM359 483h1.7v1.7h-1.7zM361 470h1.7v1.7h-1.7zM364 453h1.7v1.7h-1.7zM366 443h1.7v1.7h-1.7zM368 435h1.7v1.7h-1.7zM370 428h1.7v1.7h-1.7zM372 424h1.7v1.7h-1.7zM375 430h1.7v1.7h-1.7zM376 435h1.7v1.7h-1.7zM378 438h1.7v1.7h-1.7zM379 446h1.7v1.7h-1.7zM380 455h1.7v1.7h-1.7zM382 470h1.7v1.7h-1.7zM384 469h1.7v1.7h-1.7zM388 478h1.7v1.7h-1.7zM390 481h1.7v1.7h-1.7zM393 485h1.7v1.7h-1.7zM398 487h1.7v1.7h-1.7z" fill="#000" stroke="none"/>
<path d="M350.9 491.9V468.8L351.6 447.3L352.3 460.6H352.4V468.8H352.6H352.9V480.4H353.1H353.5V486.2H353.9L355.6 487.0L357.2 486.2L358.9 487.0L360.2 482.1H360.8V475.5H361.4H361.9V470.5H362.5H363.0V465.5H363.5H364.1V460.6H364.7H365.2V454.8H365.8H366.3V449.8H366.8H367.4V444.0H368.0H368.4V439.1H368.8H369.2V434.9H369.6H370.0V430.8H370.5H371.1V428.3H371.8H372.4V425.8H372.9L373.8 425.0L375.1 427.5H375.7V428.3H376.2H376.7V432.5H377.1L377.9 436.6L378.7 435.8L379.6 441.6H379.8V448.2H380.1H380.4V454.0H380.7H381.2V458.9H381.7H382.3V463.9H382.9H383.4V468.0H384.0H384.7V471.3H385.3H386.0V473.8H386.7H387.2V476.3H387.8H388.6V478.8H389.5H390.3V480.4H391.1H392.0V482.9H392.8H393.6V484.6H394.4H395.7V486.2H396.9H398.2V487.0H399.4H400.2V487.4H401.1H402.3V488.2H403.5H410.1H413.5V488.7H416.8H419.7H420.3V491.9H420.9H430.0H431.6H510.0" fill="none" stroke="#000" stroke-width="1.45" stroke-linejoin="miter" stroke-miterlimit="3"/>
<path d="M348.4 492.4V408.4H511.5V492.4" fill="none" stroke="#000" stroke-width="1.5"/>
<path d="M348.0 492.4H511.9" fill="none" stroke="#000" stroke-width="1.5"/>
<path d="M348.09999999999997 492.4V408.4" fill="none" stroke="#000" stroke-width="1.9"/>
<path d="M348.4 492.40h-5.6M348.4 489.66h-3.6M348.4 486.92h-3.6M348.4 484.18h-3.6M348.4 481.44h-3.6M348.4 478.70h-5.6M348.4 475.96h-3.6M348.4 473.22h-3.6M348.4 470.48h-3.6M348.4 467.74h-3.6M348.4 465.00h-5.6M348.4 462.26h-3.6M348.4 459.52h-3.6M348.4 456.78h-3.6M348.4 454.04h-3.6M348.4 451.30h-5.6M348.4 448.56h-3.6M348.4 445.82h-3.6M348.4 443.08h-3.6M348.4 440.34h-3.6M348.4 437.60h-5.6M348.4 434.86h-3.6M348.4 432.12h-3.6M348.4 429.38h-3.6M348.4 426.64h-3.6M348.4 423.90h-5.6M348.4 421.16h-3.6M348.4 418.42h-3.6M348.4 415.68h-3.6M348.4 412.94h-3.6M348.4 410.20h-5.6" stroke="#000" stroke-width="1.35" fill="none"/>
<path d="M348.40 492.4v7.0M360.67 492.4v3.9M367.85 492.4v3.9M372.95 492.4v3.9M376.90 492.4v3.9M380.13 492.4v3.9M382.86 492.4v3.9M385.22 492.4v3.9M387.31 492.4v3.9M389.17 492.4v7.0M401.45 492.4v3.9M408.63 492.4v3.9M413.72 492.4v3.9M417.68 492.4v3.9M420.90 492.4v3.9M423.63 492.4v3.9M426.00 492.4v3.9M428.08 492.4v3.9M429.95 492.4v7.0M442.22 492.4v3.9M449.40 492.4v3.9M454.50 492.4v3.9M458.45 492.4v3.9M461.68 492.4v3.9M464.41 492.4v3.9M466.77 492.4v3.9M468.86 492.4v3.9M470.73 492.4v7.0M483.00 492.4v3.9M490.18 492.4v3.9M495.27 492.4v3.9M499.23 492.4v3.9M502.45 492.4v3.9M505.18 492.4v3.9M507.55 492.4v3.9M509.63 492.4v3.9M511.50 492.4v7.0" stroke="#000" stroke-width="1.45" fill="none"/>
<text x="340.1" y="513.6" font-size="13.9" text-anchor="start" font-weight="normal" textLength="11.2" lengthAdjust="spacingAndGlyphs" stroke="#000" stroke-width="0.5">10</text>
<text x="351.6" y="505.8" font-size="13.4" text-anchor="start" font-weight="normal" textLength="5.9" lengthAdjust="spacingAndGlyphs" stroke="#000" stroke-width="0.45">0</text>
<text x="380.87" y="513.6" font-size="13.9" text-anchor="start" font-weight="normal" textLength="11.2" lengthAdjust="spacingAndGlyphs" stroke="#000" stroke-width="0.5">10</text>
<text x="392.37" y="505.8" font-size="13.4" text-anchor="start" font-weight="normal" textLength="5.9" lengthAdjust="spacingAndGlyphs" stroke="#000" stroke-width="0.45">1</text>
<text x="421.65" y="513.6" font-size="13.9" text-anchor="start" font-weight="normal" textLength="11.2" lengthAdjust="spacingAndGlyphs" stroke="#000" stroke-width="0.5">10</text>
<text x="433.15" y="505.8" font-size="13.4" text-anchor="start" font-weight="normal" textLength="5.9" lengthAdjust="spacingAndGlyphs" stroke="#000" stroke-width="0.45">2</text>
<text x="462.43" y="513.6" font-size="13.9" text-anchor="start" font-weight="normal" textLength="11.2" lengthAdjust="spacingAndGlyphs" stroke="#000" stroke-width="0.5">10</text>
<text x="473.93" y="505.8" font-size="13.4" text-anchor="start" font-weight="normal" textLength="5.9" lengthAdjust="spacingAndGlyphs" stroke="#000" stroke-width="0.45">3</text>
<text x="501.2" y="513.6" font-size="13.9" text-anchor="start" font-weight="normal" textLength="11.2" lengthAdjust="spacingAndGlyphs" stroke="#000" stroke-width="0.5">10</text>
<text x="512.7" y="505.8" font-size="13.4" text-anchor="start" font-weight="normal" textLength="5.9" lengthAdjust="spacingAndGlyphs" stroke="#000" stroke-width="0.45">4</text>
<text transform="translate(338.20 410.20) rotate(-90)" font-size="12" text-anchor="middle" textLength="12.8" lengthAdjust="spacingAndGlyphs" stroke="#000" stroke-width="0.6">30</text>
<text transform="translate(338.20 491.50) rotate(-90)" font-size="12" text-anchor="middle" textLength="6.6" lengthAdjust="spacingAndGlyphs" stroke="#000" stroke-width="0.6">0</text>
<path d="M188.60 66.0V129.2" stroke="#555" stroke-width="0.9" fill="none"/>
<text x="188.6" y="60.699999999999996" font-size="15.0" text-anchor="start" font-weight="normal" textLength="59.3" lengthAdjust="spacingAndGlyphs" word-spacing="3" stroke="#000" stroke-width="0.4">MFI 265</text>
<path d="M188.75 188.5V249.5" stroke="#555" stroke-width="0.9" fill="none"/>
<text x="188.6" y="180.70000000000002" font-size="15.0" text-anchor="start" font-weight="normal" textLength="59.3" lengthAdjust="spacingAndGlyphs" word-spacing="3" stroke="#000" stroke-width="0.4">MFI 186</text>
<path d="M188.90 306.0V371.7" stroke="#555" stroke-width="0.9" fill="none"/>
<text x="188.6" y="302.7" font-size="15.0" text-anchor="start" font-weight="normal" textLength="57.9" lengthAdjust="spacingAndGlyphs" word-spacing="3" stroke="#000" stroke-width="0.4">MFI 111</text>
<path d="M189.05 428.0V492.4" stroke="#555" stroke-width="0.9" fill="none"/>
<text x="194.0" y="422.9" font-size="15.0" text-anchor="start" font-weight="normal" textLength="49.5" lengthAdjust="spacingAndGlyphs" word-spacing="3" stroke="#000" stroke-width="0.4">MFI 87</text>
<path d="M408.00 66.6V86.3" stroke="#000" stroke-width="2.2" fill="none"/>
<path d="M408.00 77.2H510.0" stroke="#000" stroke-width="1.8" fill="none"/>
<text x="445.6" y="71.3" font-size="14.7" text-anchor="start" font-weight="normal" letter-spacing="2.5" stroke="#000" stroke-width="0.4">51%</text>
<path d="M408.15 187.1V208.0" stroke="#000" stroke-width="2.2" fill="none"/>
<path d="M408.15 196.1H510.6" stroke="#000" stroke-width="1.8" fill="none"/>
<text x="447.4" y="190.2" font-size="14.7" text-anchor="start" font-weight="normal" letter-spacing="2.4" stroke="#000" stroke-width="0.4">32%</text>
<path d="M408.45 309.3V330.5" stroke="#000" stroke-width="2.2" fill="none"/>
<path d="M408.45 318.2H511.0" stroke="#000" stroke-width="1.8" fill="none"/>
<text x="446.2" y="313.8" font-size="14.7" text-anchor="start" font-weight="normal" letter-spacing="0.0" stroke="#000" stroke-width="0.4">6 %</text>
<path d="M408.95 428.1V447.6" stroke="#000" stroke-width="2.2" fill="none"/>
<path d="M408.95 438.7H511.5" stroke="#000" stroke-width="1.8" fill="none"/>
<text x="445.8" y="434.3" font-size="14.7" text-anchor="start" font-weight="normal" letter-spacing="-0.4" stroke="#000" stroke-width="0.4">1 %</text>
<path d="M90.6 530.75H244" stroke="#000" stroke-width="2" fill="none"/>
<path d="M242.3 523.1L260.4 529.6L242.3 536.0z" fill="#000"/>
<path d="M343.8 529.0H498" stroke="#000" stroke-width="2" fill="none"/>
<path d="M495.8 521.6L513.6 527.9L495.8 534.3z" fill="#000"/>
<text x="154.9" y="551.5" font-size="21.5" text-anchor="start" font-weight="normal" textLength="37.4" lengthAdjust="spacingAndGlyphs" stroke="#000" stroke-width="0.55">Fas</text>
<text x="383.6" y="551.0" font-size="21.5" text-anchor="start" font-weight="normal" textLength="88.6" lengthAdjust="spacingAndGlyphs" stroke="#000" stroke-width="0.55">HLA-DR</text>
</svg>
</body></html>
